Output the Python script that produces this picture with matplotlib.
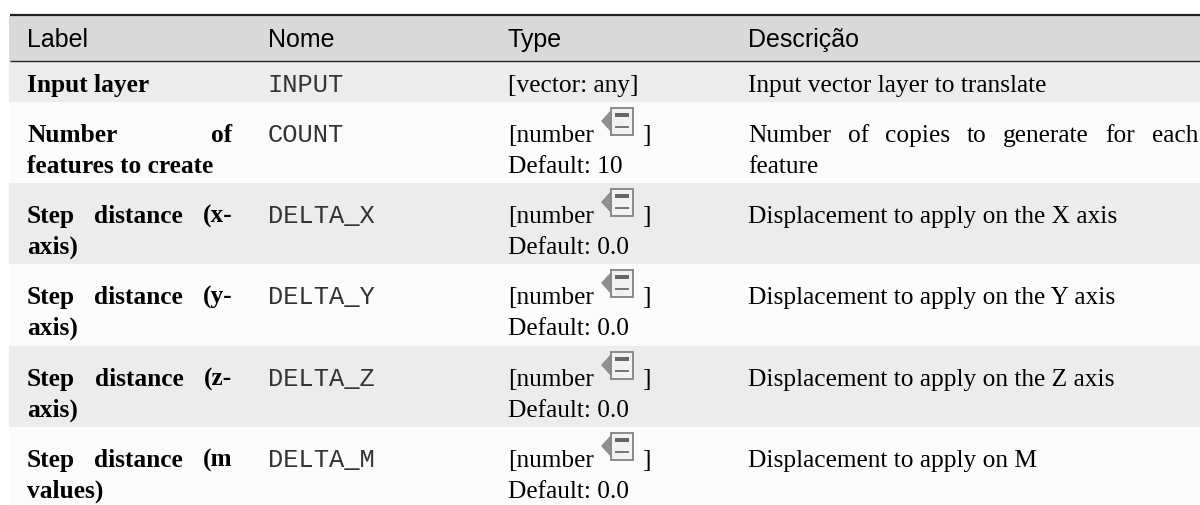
import matplotlib
matplotlib.use("Agg")
import matplotlib.pyplot as plt
from matplotlib.patches import Rectangle, Polygon

headers = ["Label", "Nome", "Type", "Descrição"]
labels = [
    ["Input layer"],
    [("Number", "of"), "features to create"],
    [("Step", "distance", "(x-"), "axis)"],
    [("Step", "distance", "(y-"), "axis)"],
    [("Step", "distance", "(z-"), "axis)"],
    [("Step", "distance", "(m"), "values)"],
]
names = ["INPUT", "COUNT", "DELTA_X", "DELTA_Y", "DELTA_Z", "DELTA_M"]
defaults = [None, "Default: 10", "Default: 0.0", "Default: 0.0", "Default: 0.0", "Default: 0.0"]
descriptions = [
    ["Input vector layer to translate"],
    [("Number", "of", "copies", "to", "generate", "for", "each"), "feature"],
    ["Displacement to apply on the X axis"],
    ["Displacement to apply on the Y axis"],
    ["Displacement to apply on the Z axis"],
    ["Displacement to apply on M"],
]

W, H = 1200, 505
row_edges = [61, 102, 183, 264, 346, 427, 505]
row_colors = ["#ececec", "#fbfbfb", "#ececec", "#fbfbfb", "#ececec", "#fbfbfb"]
col_x = [27, 268, 508, 748]
FS = 18.3

fig = plt.figure(figsize=(W / 100, H / 100), dpi=100)
ax = fig.add_axes([0, 0, 1, 1])
ax.set_xlim(0, W)
ax.set_ylim(H, 0)
ax.axis("off")

serif = "Liberation Serif"
sans = "Liberation Sans"
mono = "Liberation Mono"


def justified(words, x0, x1, y, **kw):
    # spread words between x0 and x1 like a justified cell
    r = fig.canvas.get_renderer()
    items = [ax.text(x0, y, w, va="baseline", ha="left", **kw) for w in words]
    widths = [t.get_window_extent(r).width for t in items]
    gap = (x1 - x0 - sum(widths)) / (len(words) - 1)
    x = x0
    for t, w in zip(items, widths):
        t.set_x(x)
        x += w + gap


def icon(x, y):
    # little gray "field" icon, x/y = top left
    ax.add_patch(Polygon([(x, y + 14), (x + 10, y + 3), (x + 10, y + 25)], fc="#8f8f8f", ec="none"))
    ax.add_patch(Rectangle((x + 10, y + 0.5), 22, 27, fc="#f2f2f2", ec="#8a8a8a", lw=1.4))
    ax.add_patch(Rectangle((x + 14, y + 6), 14, 3.5, fc="#666666", ec="none"))
    ax.add_patch(Rectangle((x + 14, y + 19), 14, 1.8, fc="#777777", ec="none"))


# backgrounds
ax.add_patch(Rectangle((9, 16), W - 9, 45, fc="#d9d9d9", ec="none"))
for i, c in enumerate(row_colors):
    ax.add_patch(Rectangle((9, row_edges[i]), W - 9, row_edges[i + 1] - row_edges[i], fc=c, ec="none"))
ax.plot([10, W], [15, 15], color="#222222", lw=1.6, solid_capstyle="butt")
ax.plot([10, W], [61, 61], color="#222222", lw=1.0, solid_capstyle="butt")

for x, h in zip(col_x, headers):
    ax.text(x, 47, h, family=sans, fontsize=FS - 0.3, color="black", va="baseline")

line1 = [92, 142, 223, 304, 386, 467]
line2 = [None, 173, 254, 335, 417, 498]
for i in range(6):
    # label column
    first = labels[i][0]
    if isinstance(first, tuple):
        justified(first, col_x[0], 232, line1[i], family=serif, weight="bold", fontsize=FS, color="black")
    else:
        ax.text(col_x[0], line1[i], first, family=serif, weight="bold", fontsize=FS, color="black")
    if len(labels[i]) > 1:
        ax.text(col_x[0], line2[i], labels[i][1], family=serif, weight="bold", fontsize=FS, color="black")

    # name column
    ax.text(col_x[1], line1[i], names[i], family=mono, fontsize=FS, color="#333333")

    # type column
    if i == 0:
        ax.text(col_x[2], line1[i], "[vector: any]", family=serif, fontsize=FS, color="black")
    else:
        ax.text(col_x[2], line1[i], "[number", family=serif, fontsize=FS, color="black")
        icon(601, row_edges[i] + 5)
        ax.text(642, line1[i], "]", family=serif, fontsize=FS, color="black")
        ax.text(col_x[2], line2[i], defaults[i], family=serif, fontsize=FS, color="black")

    # description column
    first = descriptions[i][0]
    if isinstance(first, tuple):
        justified(first, col_x[3], 1198, line1[i], family=serif, fontsize=FS, color="black")
    else:
        ax.text(col_x[3], line1[i], first, family=serif, fontsize=FS, color="black")
    if len(descriptions[i]) > 1:
        ax.text(col_x[3], line2[i], descriptions[i][1], family=serif, fontsize=FS, color="black")

fig.savefig("out.png", dpi=100)
